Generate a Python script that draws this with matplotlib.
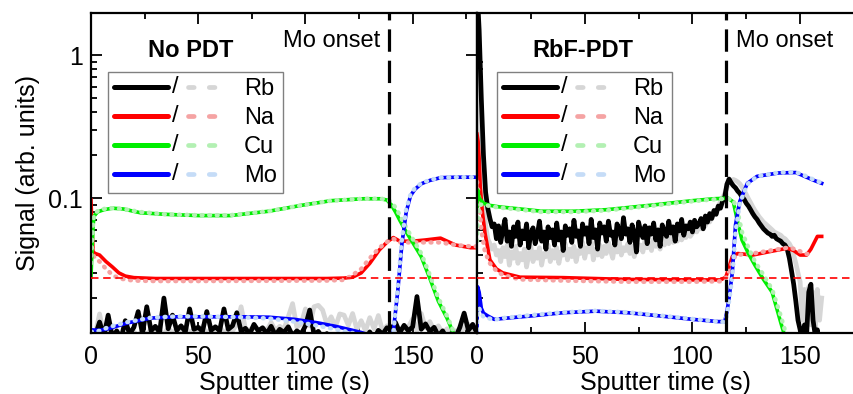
import numpy as np
import matplotlib
matplotlib.use('Agg')
import matplotlib.pyplot as plt
from matplotlib.legend_handler import HandlerBase
from matplotlib.lines import Line2D
from matplotlib.text import Text
from matplotlib.ticker import MultipleLocator, FixedLocator, LogLocator, NullFormatter

plt.rcParams['font.family'] = ['Liberation Sans', 'DejaVu Sans']

# ---------------- No PDT (left panel) ----------------
t_rb_left = np.arange(0, 181, 2)
rb_left_dark = [
    0.0105, 0.0110, 0.0136, 0.0108, 0.0152, 0.0106, 0.0118, 0.0104, 0.0139, 0.0112,
    0.0125, 0.0161, 0.0113, 0.0174, 0.0118, 0.0127, 0.0115, 0.0200, 0.0122, 0.0152,
    0.0119, 0.0128, 0.0116, 0.0168, 0.0121, 0.0125, 0.0117, 0.0161, 0.0119, 0.0126,
    0.0118, 0.0168, 0.0121, 0.0128, 0.0158, 0.0117, 0.0123, 0.0112, 0.0131, 0.0118,
    0.0124, 0.0113, 0.0127, 0.0110, 0.0121, 0.0115, 0.0126, 0.0109, 0.0118, 0.0112,
    0.0128, 0.0165, 0.0111, 0.0117, 0.0106, 0.0113, 0.0104, 0.0108, 0.0101, 0.0110,
    0.0103, 0.0112, 0.0105, 0.0109, 0.0102, 0.0116, 0.0104, 0.0119, 0.0112, 0.0124,
    0.0121, 0.0135, 0.0115, 0.0129, 0.0118, 0.0126, 0.0205, 0.0121, 0.0132, 0.0117,
    0.0125, 0.0109, 0.0118, 0.0104, 0.0113, 0.0106, 0.0125, 0.0157, 0.0119, 0.0131,
    0.0114]
rb_left_light = [
    0.0105, 0.0112, 0.0155, 0.0109, 0.0118, 0.0104, 0.0112, 0.0107, 0.0113, 0.0106,
    0.0116, 0.0109, 0.0119, 0.0111, 0.0121, 0.0113, 0.0118, 0.0112, 0.0123, 0.0115,
    0.0120, 0.0113, 0.0125, 0.0114, 0.0121, 0.0116, 0.0127, 0.0113, 0.0122, 0.0117,
    0.0126, 0.0114, 0.0121, 0.0118, 0.0131, 0.0174, 0.0122, 0.0119, 0.0128, 0.0116,
    0.0124, 0.0119, 0.0135, 0.0118, 0.0127, 0.0121, 0.0148, 0.0183, 0.0125, 0.0132,
    0.0168, 0.0128, 0.0174, 0.0178, 0.0165, 0.0131, 0.0148, 0.0126, 0.0155, 0.0152,
    0.0129, 0.0156, 0.0121, 0.0139, 0.0118, 0.0146, 0.0122, 0.0151, 0.0117, 0.0128,
    0.0124, 0.0115, 0.0121, 0.0112, 0.0126, 0.0143, 0.0118, 0.0156, 0.0124, 0.0137,
    0.0119, 0.0128, 0.0113, 0.0122, 0.0109, 0.0118, 0.0112, 0.0124, 0.0131, 0.0119,
    0.0114]

t_na_left = [0, 0.5, 1, 2, 4, 7, 10, 13, 16, 20, 30, 50, 80, 110, 118, 122, 126,
             130, 134.5, 138.5, 141, 144, 150, 156, 163, 170, 177, 180]
na_left_dark = [0.097, 0.06, 0.042, 0.041, 0.040, 0.036, 0.033, 0.030, 0.0285, 0.0278,
                0.0274, 0.0274, 0.0274, 0.0274, 0.0276, 0.028, 0.030, 0.035, 0.0435,
                0.050, 0.053, 0.050, 0.050, 0.051, 0.0525, 0.047, 0.045, 0.045]
na_left_light = [0.05, 0.045, 0.040, 0.038, 0.036, 0.032, 0.029, 0.0275, 0.027, 0.0265,
                 0.0263, 0.0263, 0.0264, 0.0265, 0.0268, 0.029, 0.032, 0.038, 0.045,
                 0.050, 0.052, 0.049, 0.049, 0.049, 0.049, 0.047, 0.046, 0.046]

t_cu_left = [0, 0.5, 1, 1.5, 3, 6, 10, 15, 23, 35, 50, 65, 83, 98, 112, 127, 135,
             138, 140, 142, 144, 147, 150, 154, 158, 162, 166, 170]
cu_left_dark = [0.028, 0.045, 0.065, 0.075, 0.080, 0.083, 0.085, 0.084, 0.079, 0.077,
                0.0755, 0.0755, 0.081, 0.089, 0.096, 0.099, 0.099, 0.097, 0.090, 0.080,
                0.070, 0.058, 0.049, 0.039, 0.0275, 0.019, 0.0145, 0.0105]
cu_left_light = [0.035, 0.050, 0.068, 0.077, 0.081, 0.084, 0.085, 0.084, 0.080, 0.077,
                 0.076, 0.076, 0.081, 0.089, 0.096, 0.099, 0.099, 0.098, 0.094, 0.086,
                 0.076, 0.062, 0.052, 0.041, 0.029, 0.020, 0.015, 0.0108]

t_mo_left = [0, 4, 8, 17, 28, 40, 51, 70, 83, 95, 106, 114, 121, 126, 130, 135, 139,
             141, 143, 145, 147, 149, 151, 154, 158, 163, 170, 180]
mo_left_dark = [0.0120, 0.0119, 0.0122, 0.0134, 0.0145, 0.0148, 0.0148, 0.0148, 0.0147,
                0.0142, 0.0134, 0.0127, 0.0120, 0.0115, 0.0110, 0.0105, 0.0110, 0.0118,
                0.022, 0.048, 0.080, 0.104, 0.115, 0.126, 0.133, 0.139, 0.140, 0.140]
mo_left_light = [0.0116, 0.0118, 0.0125, 0.0136, 0.0146, 0.0149, 0.0149, 0.0147, 0.0144,
                 0.0137, 0.0128, 0.0121, 0.0115, 0.0110, 0.0106, 0.0103, 0.0108, 0.0116,
                 0.023, 0.052, 0.084, 0.106, 0.117, 0.127, 0.134, 0.139, 0.140, 0.140]

# ---------------- RbF-PDT (right panel) ----------------
t_rb_right = np.arange(0, 161, 1)
rb_right_dark = [
    3.0, 1.5, 0.5, 0.2, 0.11, 0.085, 0.072, 0.063, 0.066, 0.052,
    0.064, 0.049, 0.060, 0.071, 0.050, 0.058, 0.046, 0.063, 0.054, 0.068,
    0.047, 0.059, 0.052, 0.066, 0.045, 0.057, 0.062, 0.048, 0.055, 0.069,
    0.050, 0.058, 0.044, 0.063, 0.053, 0.060, 0.047, 0.067, 0.051, 0.058,
    0.043, 0.064, 0.055, 0.061, 0.049, 0.070, 0.054, 0.059, 0.046, 0.066,
    0.056, 0.062, 0.048, 0.071, 0.053, 0.060, 0.044, 0.067, 0.057, 0.063,
    0.050, 0.069, 0.055, 0.058, 0.047, 0.066, 0.060, 0.052, 0.073, 0.056,
    0.061, 0.049, 0.065, 0.057, 0.042, 0.068, 0.058, 0.053, 0.064, 0.048,
    0.062, 0.056, 0.067, 0.051, 0.060, 0.046, 0.065, 0.058, 0.054, 0.069,
    0.057, 0.063, 0.050, 0.066, 0.059, 0.071, 0.055, 0.064, 0.061, 0.068,
    0.058, 0.070, 0.063, 0.066, 0.072, 0.061, 0.075, 0.068, 0.078, 0.072,
    0.082, 0.077, 0.088, 0.085, 0.095, 0.102, 0.125, 0.136, 0.128, 0.122,
    0.118, 0.112, 0.108, 0.102, 0.098, 0.092, 0.088, 0.083, 0.078, 0.074,
    0.071, 0.067, 0.064, 0.061, 0.059, 0.057, 0.056, 0.054, 0.055, 0.052,
    0.051, 0.050, 0.048, 0.047, 0.044, 0.038, 0.031, 0.025, 0.019, 0.014,
    0.012, 0.010, 0.013, 0.011, 0.022, 0.025, 0.014, 0.011, 0.012, 0.009,
    0.008]
rb_right_light = [
    0.8, 0.45, 0.2, 0.1, 0.065, 0.052, 0.048, 0.044, 0.047, 0.040,
    0.043, 0.036, 0.045, 0.039, 0.047, 0.034, 0.042, 0.038, 0.046, 0.035,
    0.041, 0.037, 0.044, 0.033, 0.040, 0.046, 0.036, 0.042, 0.038, 0.045,
    0.034, 0.041, 0.039, 0.047, 0.036, 0.043, 0.038, 0.045, 0.035, 0.042,
    0.040, 0.048, 0.037, 0.044, 0.039, 0.046, 0.036, 0.043, 0.041, 0.049,
    0.038, 0.045, 0.042, 0.050, 0.037, 0.044, 0.040, 0.047, 0.039, 0.046,
    0.041, 0.049, 0.043, 0.038, 0.047, 0.042, 0.050, 0.040, 0.045, 0.043,
    0.048, 0.041, 0.046, 0.039, 0.050, 0.044, 0.047, 0.042, 0.051, 0.045,
    0.049, 0.043, 0.052, 0.046, 0.050, 0.044, 0.053, 0.047, 0.051, 0.048,
    0.054, 0.049, 0.052, 0.050, 0.056, 0.051, 0.055, 0.053, 0.058, 0.054,
    0.057, 0.060, 0.058, 0.063, 0.061, 0.066, 0.064, 0.070, 0.068, 0.074,
    0.078, 0.082, 0.088, 0.094, 0.100, 0.108, 0.118, 0.126, 0.132, 0.135,
    0.133, 0.130, 0.126, 0.120, 0.113, 0.106, 0.099, 0.093, 0.087, 0.082,
    0.078, 0.074, 0.071, 0.068, 0.066, 0.064, 0.062, 0.060, 0.058, 0.057,
    0.056, 0.055, 0.053, 0.052, 0.050, 0.048, 0.045, 0.040, 0.035, 0.030,
    0.026, 0.014, 0.023, 0.012, 0.024, 0.013, 0.022, 0.012, 0.023, 0.014,
    0.020]

t_na_right = [0, 0.5, 1, 1.5, 2.5, 3.7, 6, 9, 12, 20, 40, 70, 100, 113, 115.5, 117,
              118.5, 121, 128, 136, 144, 147, 150, 153, 155, 158, 160]
na_right_dark = [0.28, 0.25, 0.19, 0.12, 0.08, 0.057, 0.037, 0.032, 0.030, 0.028,
                 0.0278, 0.027, 0.0268, 0.0268, 0.028, 0.033, 0.039, 0.041, 0.040,
                 0.0423, 0.0446, 0.043, 0.040, 0.040, 0.044, 0.054, 0.054]
t_na_right_light = [0, 1, 2, 3.7, 6, 9, 12, 20, 40, 70, 100, 113, 116, 118, 120, 128,
                    136, 144, 148, 152, 156]
na_right_light = [0.13, 0.10, 0.06, 0.042, 0.035, 0.031, 0.029, 0.027, 0.0265, 0.026,
                  0.026, 0.0262, 0.028, 0.034, 0.040, 0.041, 0.043, 0.045, 0.044,
                  0.041, 0.040]

t_cu_right = [0, 0.3, 1, 3, 6, 10, 20, 30, 45, 60, 80, 100, 110, 116.5, 119, 121, 123,
              126, 129, 133, 137, 141, 144]
cu_right_dark = [0.085, 0.114, 0.100, 0.092, 0.089, 0.087, 0.084, 0.081, 0.081, 0.083,
                 0.089, 0.096, 0.099, 0.100, 0.094, 0.068, 0.051, 0.041, 0.034, 0.027,
                 0.022, 0.0135, 0.0095]
cu_right_light = [0.05, 0.07, 0.090, 0.090, 0.088, 0.086, 0.083, 0.080, 0.080, 0.082,
                  0.088, 0.095, 0.098, 0.099, 0.097, 0.080, 0.058, 0.045, 0.036, 0.029,
                  0.023, 0.015, 0.0105]

t_mo_right = [0, 0.3, 1, 2, 3, 5, 8, 12, 25, 40, 55, 70, 85, 100, 112, 115, 116, 117,
              118.5, 120, 122, 125.5, 130, 140, 148, 153, 157, 160]
mo_right_dark = [0.012, 0.024, 0.022, 0.017, 0.0157, 0.0150, 0.0142, 0.0144, 0.0150,
                 0.0158, 0.0162, 0.0158, 0.0150, 0.0142, 0.0137, 0.0137, 0.016, 0.020,
                 0.030, 0.065, 0.095, 0.127, 0.142, 0.150, 0.151, 0.140, 0.132, 0.127]
mo_right_light = [0.012, 0.016, 0.017, 0.0155, 0.0148, 0.0145, 0.0141, 0.0145, 0.0152,
                  0.0159, 0.0163, 0.0159, 0.0151, 0.0143, 0.0137, 0.0136, 0.015, 0.019,
                  0.028, 0.058, 0.092, 0.125, 0.142, 0.151, 0.152, 0.142, 0.133, 0.128]

elements = ['Rb', 'Na', 'Cu', 'Mo']
dark_colors = ['#000000', '#ff0000', '#00ee00', '#0000ff']
light_colors = ['#d6d6d6', '#f5a3a3', '#b3f0b3', '#c5dcf7']
na_ref = 0.0276
onset_left = 138.8
onset_right = 115.8


class Pair:
    def __init__(self, dark, light):
        self.dark = dark
        self.light = light


class PairHandler(HandlerBase):
    def create_artists(self, legend, orig_handle, xdescent, ydescent, width, height,
                       fontsize, trans):
        y = height / 2 - ydescent
        x0 = -xdescent
        solid = Line2D([x0, x0 + 0.46 * width], [y, y], color=orig_handle.dark, lw=3.6,
                       solid_capstyle='round', transform=trans)
        slash = Text(x0 + 0.52 * width, y, '/', fontsize=fontsize, ha='center',
                     va='center', transform=trans)
        dash = Line2D([x0 + 0.63 * width, x0 + 0.97 * width], [y, y],
                      color=orig_handle.light, lw=3.4, dashes=(1.2, 3.2),
                      dash_capstyle='round', transform=trans)
        return [solid, slash, dash]


fig = plt.figure(figsize=(8.54, 3.94), dpi=100)
axL = fig.add_axes([91 / 854, 61 / 394, 386 / 854, 320 / 394])
axR = fig.add_axes([477 / 854, 61 / 394, 377 / 854, 320 / 394])

left_series = [(t_rb_left, rb_left_dark, t_rb_left, rb_left_light),
               (t_na_left, na_left_dark, t_na_left, na_left_light),
               (t_cu_left, cu_left_dark, t_cu_left, cu_left_light),
               (t_mo_left, mo_left_dark, t_mo_left, mo_left_light)]
right_series = [(t_rb_right, rb_right_dark, t_rb_right, rb_right_light),
                (t_na_right, na_right_dark, t_na_right_light, na_right_light),
                (t_cu_right, cu_right_dark, t_cu_right, cu_right_light),
                (t_mo_right, mo_right_dark, t_mo_right, mo_right_light)]

for ax, series in [(axL, left_series), (axR, right_series)]:
    for i, ((td, vd, tl, vl), dc, lc) in enumerate(zip(series, dark_colors, light_colors)):
        if i == 0:
            # noisy Rb traces: the dashes merge into a band
            ax.plot(tl, vl, color=lc, lw=3.4, solid_joinstyle='round')
            ax.plot(td, vd, color=dc, lw=3.4, solid_joinstyle='round')
        else:
            ax.plot(td, vd, color=dc, lw=2.6, solid_joinstyle='round')
            ax.plot(tl, vl, color=lc, lw=3.2, dashes=(0.2, 1.5), dash_capstyle='round')
    ax.axhline(na_ref, color='#ff0000', lw=1.2, dashes=(4.5, 2.8), zorder=5)
    ax.set_yscale('log')
    ax.set_ylim(0.0114, 1.97)
    ax.yaxis.set_major_locator(FixedLocator([0.1, 1]))
    ax.yaxis.set_minor_locator(LogLocator(base=10, subs=np.arange(2, 10)))
    ax.yaxis.set_minor_formatter(NullFormatter())
    ax.xaxis.set_major_locator(MultipleLocator(50))
    ax.xaxis.set_minor_locator(MultipleLocator(25))
    ax.tick_params(which='both', direction='in', top=True, labelsize=18, width=1.3)
    ax.tick_params(which='major', length=8, pad=6)
    ax.tick_params(axis='x', which='major', pad=9)
    ax.tick_params(which='minor', length=4.5)
    for sp in ax.spines.values():
        sp.set_linewidth(1.6)
    ax.set_xlabel('Sputter time (s)', fontsize=18, labelpad=1)

axL.set_xlim(0, 180)
axR.set_xlim(0, 175)
axL.set_yticklabels(['0.1', '1'])
axL.tick_params(axis='y', right=True)
axR.tick_params(axis='y', left=False, right=False, labelleft=False)
axR.spines['right'].set_visible(False)
axL.set_ylabel('Signal (arb. units)', fontsize=18, labelpad=6)

axL.axvline(onset_left, color='black', lw=2.3, dashes=(7, 2.8), zorder=4)
axR.axvline(onset_right, color='black', lw=2.3, dashes=(7, 2.8), zorder=4)

axL.text(0.148, 0.8625, 'No PDT', transform=axL.transAxes, fontsize=17,
         fontweight='bold', va='baseline')
axL.text(0.497, 0.894, 'Mo onset', transform=axL.transAxes, fontsize=17, va='baseline')
axR.text(0.146, 0.8625, 'RbF-PDT', transform=axR.transAxes, fontsize=17,
         fontweight='bold', va='baseline')
axR.text(0.687, 0.894, 'Mo onset', transform=axR.transAxes, fontsize=17, va='baseline')

handles = [Pair(d, l) for d, l in zip(dark_colors, light_colors)]
for ax, x in [(axL, 0.044), (axR, 0.053)]:
    leg = ax.legend(handles, elements, handler_map={Pair: PairHandler()},
                    loc='upper left', bbox_to_anchor=(x, 0.815), borderaxespad=0,
                    fontsize=17, handlelength=5.0, handletextpad=0.5, borderpad=0.25,
                    labelspacing=0.3, fancybox=False, framealpha=1, edgecolor='#808080')
    leg.get_frame().set_linewidth(1.0)
    leg.set_zorder(10)

fig.savefig('out.png', dpi=100)
